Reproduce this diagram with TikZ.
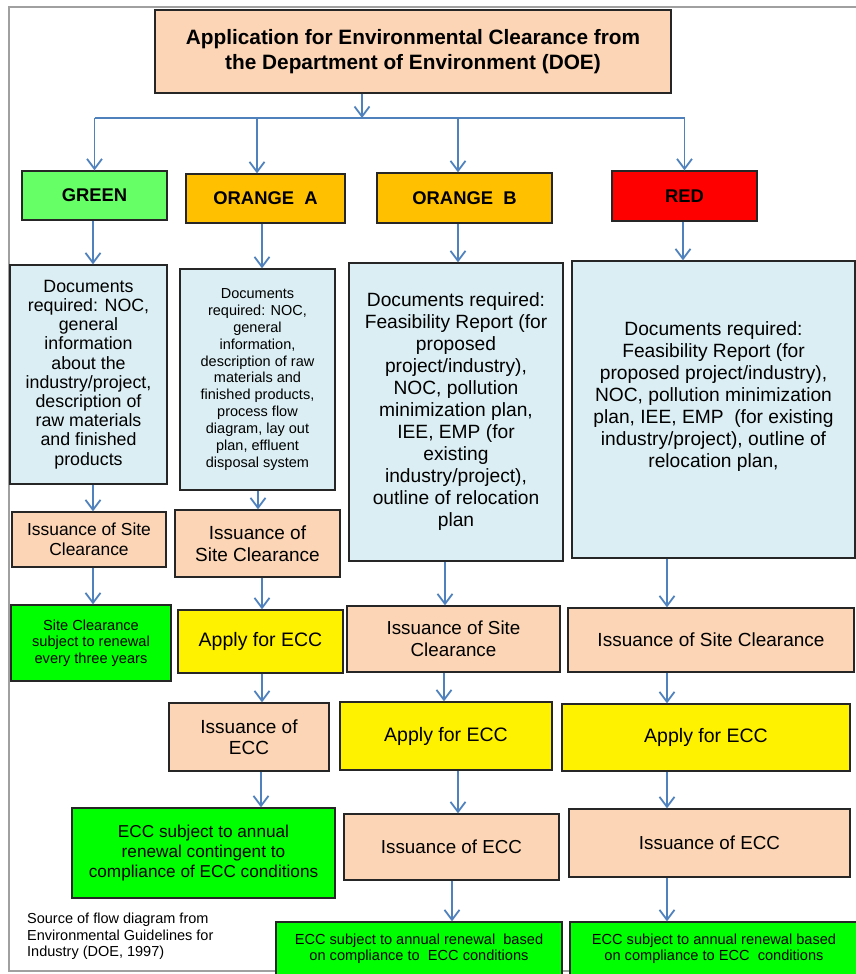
\documentclass[tikz,border=0pt]{standalone}
\usepackage{fontspec}
\setmainfont{Liberation Sans}
\usetikzlibrary{arrows.meta}
\definecolor{peach}{RGB}{251,213,181}
\definecolor{paleblue}{RGB}{219,238,243}
\definecolor{lightgreen}{RGB}{102,255,102}
\definecolor{brightgreen}{RGB}{0,255,0}
\definecolor{amber}{RGB}{255,192,0}
\definecolor{arrowblue}{RGB}{79,129,189}
\definecolor{framegray}{RGB}{160,160,160}
\begin{document}
\begin{tikzpicture}[x=1pt, y=-1pt,
		box/.style={draw=black!85, line width=1.3pt, align=center, inner sep=0pt},
		flow/.style={draw=arrowblue, line width=1.8pt, -{Straight Barb[length=10pt,width=15pt]}},
		bus/.style={draw=arrowblue, line width=1.8pt},
		big/.style={font=\fontsize{19}{22}\selectfont},
		apply/.style={font=\fontsize{19.5}{22}\selectfont},
		small/.style={font=\fontsize{14.6}{16}\selectfont}
		]
	\useasboundingbox (0,0) rectangle (856,974);
	\clip (0,0) rectangle (856,974);
	\draw [framegray, line width=2pt] (856,7) -- (9,7) -- (9,971) -- (856,971);

	\node [box, fill=peach, minimum width=516, minimum height=83, font=\bfseries\fontsize{20.8}{25}\selectfont] (top) at (413,51.5)
	  {Application for Environmental Clearance from\\the Department of Environment (DOE)};

	\node [box, fill=lightgreen, minimum width=145, minimum height=49, font=\bfseries\fontsize{18.4}{21}\selectfont] (hG) at (94.5,195.5) {GREEN};
	\node [box, fill=amber, minimum width=159, minimum height=49, font=\bfseries\fontsize{18.4}{21}\selectfont] (hA) at (265.5,198.5) {ORANGE~ A};
	\node [box, fill=amber, minimum width=175, minimum height=50, font=\bfseries\fontsize{18.4}{21}\selectfont] (hB) at (464.5,198) {ORANGE~ B};
	\node [box, fill=red, minimum width=145, minimum height=50, font=\bfseries\fontsize{18.4}{21}\selectfont] (hR) at (684.5,196) {RED};

	\node [box, fill=paleblue, minimum width=157, minimum height=219, font=\fontsize{17.8}{19.2}\selectfont] (dG) at (88.5,374.5)
	  {Documents\\required: NOC,\\general\\information\\about the\\industry/project,\\description of\\raw materials\\and finished\\products};
	\node [box, fill=paleblue, minimum width=155, minimum height=221, font=\fontsize{14.5}{16.9}\selectfont] (dA) at (257.5,379.5)
	  {Documents\\required: NOC,\\general\\information,\\description of raw\\materials and\\finished products,\\process flow\\diagram, lay out\\plan, effluent\\disposal system};
	\node [box, fill=paleblue, minimum width=214, minimum height=298, font=\fontsize{19.2}{22}\selectfont] (dB) at (456,412)
	  {Documents required:\\Feasibility Report (for\\proposed\\project/industry),\\NOC, pollution\\minimization plan,\\IEE, EMP (for\\existing\\industry/project),\\outline of relocation\\plan};
	\node [box, fill=paleblue, minimum width=283, minimum height=297, font=\fontsize{19.2}{22}\selectfont] (dR) at (713.5,409.5)
	  {Documents required:\\Feasibility Report (for\\proposed project/industry),\\NOC, pollution minimization\\plan, IEE, EMP~ (for existing\\industry/project), outline of\\relocation plan,\\[8pt]\mbox{}};

	\node [box, fill=peach, minimum width=154, minimum height=55, font=\fontsize{17.4}{19.5}\selectfont] (sG) at (89,539.5) {Issuance of Site\\Clearance};
	\node [box, fill=peach, minimum width=165, minimum height=67, big] (sA) at (257.5,543.5) {Issuance of\\Site Clearance};
	\node [box, fill=peach, minimum width=213, minimum height=66, font=\fontsize{18.8}{22}\selectfont] (sB) at (453.5,639) {Issuance of Site\\Clearance};
	\node [box, fill=peach, minimum width=286, minimum height=64, big] (sR) at (711,640) {Issuance of Site Clearance};

	\node [box, fill=brightgreen, minimum width=160, minimum height=76, font=\fontsize{14.6}{16.7}\selectfont] (rG) at (91,643) {Site Clearance\\subject to renewal\\every three years};
	\node [box, fill=yellow, minimum width=165, minimum height=63, apply] (aA) at (260.5,641.5) {Apply for ECC};
	\node [box, fill=yellow, minimum width=212, minimum height=68, apply] (aB) at (446,736) {Apply for ECC};
	\node [box, fill=yellow, minimum width=288, minimum height=67, apply] (aR) at (706,737.5) {Apply for ECC};

	\node [box, fill=peach, minimum width=160, minimum height=68, font=\fontsize{19}{21}\selectfont] (eA) at (249,737) {Issuance of\\ECC};
	\node [box, fill=peach, minimum width=215, minimum height=66, font=\fontsize{18.8}{22}\selectfont] (eB) at (451.5,847) {Issuance of ECC};
	\node [box, fill=peach, minimum width=281, minimum height=68, font=\fontsize{18.8}{22}\selectfont] (eR) at (709.5,843) {Issuance of ECC};

	\node [box, fill=brightgreen, minimum width=263, minimum height=90, font=\fontsize{17.2}{19.7}\selectfont] (cA) at (203.5,853)
	  {ECC subject to annual\\renewal contingent to\\compliance of ECC conditions};
	\node [box, fill=brightgreen, minimum width=286, minimum height=54, small] (cB) at (419,949)
	  {ECC subject to annual renewal~ based\\on compliance to~ ECC conditions};
	\node [box, fill=brightgreen, minimum width=288, minimum height=54, small] (cR) at (714,949)
	  {ECC subject to annual renewal based\\on compliance to ECC~ conditions};

	\node [align=left, anchor=north west, inner sep=0pt, font=\fontsize{14.5}{16.5}\selectfont] (src) at (27,913)
	  {Source of flow diagram from\\Environmental Guidelines for\\Industry (DOE, 1997)};

	\coordinate (split) at (362,118);
	\draw [flow] (top.south -| split) -- (split);
	\draw [bus] (split -| hG) -- (split -| hR);
	\foreach \b/\x in {hG/94.5, hA/257, hB/458, hR/684.5} {
		\coordinate (cx) at (\x,0);
		\draw [flow] (split -| cx) -- (\b.north -| cx);
	}
	\foreach \a/\b/\x in {hG/dG/93, dG/sG/93, sG/rG/93,
		hA/dA/262, dA/sA/258, sA/aA/262, aA/eA/262, eA/cA/261,
		hB/dB/458, dB/sB/445, sB/aB/444, aB/eB/458, eB/cB/452,
		hR/dR/683, dR/sR/667, sR/aR/667, aR/eR/667, eR/cR/667} {
		\coordinate (cx) at (\x,0);
		\draw [flow] (\a.south -| cx) -- (\b.north -| cx);
	}
\end{tikzpicture}
\end{document}
